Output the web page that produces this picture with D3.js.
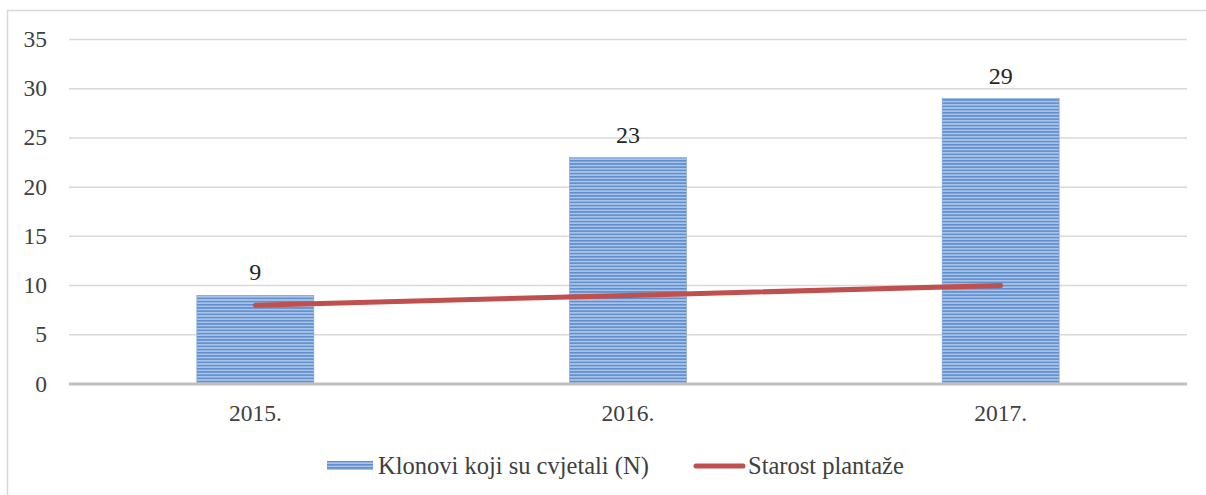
<!DOCTYPE html>
<html>
<head>
<meta charset="utf-8">
<script src="https://cdn.jsdelivr.net/npm/d3@7"></script>
<style>
  html, body { margin: 0; padding: 0; background: #fff; }
  svg { display: block; }
</style>
</head>
<body>
<svg id="chart" width="1206" height="495"></svg>
<script>
// Years on the category axis
const years = ["2015.", "2016.", "2017."];
// Number of clones that flowered each year
const flowered = [9, 23, 29];
// Plantation age in each year
const plantationAge = [8, 9, 10];
// Value axis ticks
const yTicks = [0, 5, 10, 15, 20, 25, 30, 35];

const seriesBarName = "Klonovi koji su cvjetali (N)";
const seriesLineName = "Starost plantaže";

const svg = d3.select("#chart");
const W = 1206, H = 495;
const plot = { left: 69, right: 1187, top: 39.5, bottom: 384 };
const serif = '"Liberation Serif"';
const textColor = "#404040";
const fontSize = "23.5px";

// Outer chart frame
svg.append("rect")
  .attr("x", 7.5).attr("y", 10.5)
  .attr("width", W + 20).attr("height", H + 20)
  .attr("fill", "#fff").attr("stroke", "#d9d9d9").attr("stroke-width", 1.5);

// Horizontal stripe fill for the bars
const defs = svg.append("defs");
const pat = defs.append("pattern")
  .attr("id", "stripes")
  .attr("patternUnits", "userSpaceOnUse")
  .attr("width", 8).attr("height", 3.2);
pat.append("rect").attr("width", 8).attr("height", 3.2).attr("fill", "#a9c4ea");
pat.append("rect").attr("y", 0).attr("width", 8).attr("height", 1.5).attr("fill", "#5d8ccb");

const x = d3.scaleBand()
  .domain(years)
  .range([plot.left, plot.right])
  .paddingInner(0.686)
  .paddingOuter(0.343);

const y = d3.scaleLinear()
  .domain([0, 35])
  .range([plot.bottom, plot.top]);

// Gridlines
svg.append("g")
  .selectAll("line")
  .data(yTicks.filter(t => t !== 0))
  .join("line")
  .attr("x1", plot.left).attr("x2", plot.right)
  .attr("y1", d => y(d)).attr("y2", d => y(d))
  .attr("stroke", "#d9d9d9").attr("stroke-width", 1.5);

// Value axis labels
const yAxis = d3.axisLeft(y).tickValues(yTicks).tickSize(0).tickPadding(0);
svg.append("g")
  .attr("transform", `translate(${plot.left - 22},0)`)
  .call(yAxis)
  .call(g => g.select(".domain").remove())
  .call(g => g.selectAll("text")
    .style("font-family", serif).style("font-size", fontSize)
    .attr("fill", textColor).attr("dy", "0.3em"));

// Bars
svg.append("g")
  .selectAll("rect")
  .data(years.map((yr, i) => ({ yr, v: flowered[i] })))
  .join("rect")
  .attr("x", d => x(d.yr))
  .attr("width", x.bandwidth())
  .attr("y", d => y(d.v))
  .attr("height", d => y(0) - y(d.v))
  .attr("fill", "url(#stripes)")
  .attr("stroke", "#7fa3d4").attr("stroke-width", 0.6);

// Bar value labels
svg.append("g")
  .selectAll("text")
  .data(years.map((yr, i) => ({ yr, v: flowered[i] })))
  .join("text")
  .attr("x", d => x(d.yr) + x.bandwidth() / 2)
  .attr("y", d => y(d.v) - 15)
  .attr("text-anchor", "middle")
  .style("font-family", serif).style("font-size", "24px")
  .attr("fill", "#262626")
  .text(d => d.v);

// Category axis baseline
svg.append("line")
  .attr("x1", plot.left).attr("x2", plot.right)
  .attr("y1", y(0)).attr("y2", y(0))
  .attr("stroke", "#bfbfbf").attr("stroke-width", 3);

// Category axis labels
const xAxis = d3.axisBottom(x).tickSize(0).tickPadding(0);
svg.append("g")
  .attr("transform", `translate(0,${plot.bottom + 37})`)
  .call(xAxis)
  .call(g => g.select(".domain").remove())
  .call(g => g.selectAll("text")
    .style("font-family", serif).style("font-size", fontSize)
    .attr("fill", textColor).attr("dy", 0));

// Plantation age line
const line = d3.line()
  .x((d, i) => x(years[i]) + x.bandwidth() / 2)
  .y(d => y(d));
svg.append("path")
  .datum(plantationAge)
  .attr("d", line)
  .attr("fill", "none")
  .attr("stroke", "#c0504d").attr("stroke-width", 5)
  .attr("stroke-linecap", "round");

// Legend
const legendSize = "24.5px";
const leg = svg.append("g");
leg.append("rect")
  .attr("x", 327).attr("y", 461).attr("width", 46).attr("height", 9)
  .attr("fill", "url(#stripes)");
leg.append("text").attr("x", 378).attr("y", 474)
  .style("font-family", serif).style("font-size", legendSize).attr("fill", textColor)
  .text(seriesBarName);
leg.append("line")
  .attr("x1", 696).attr("x2", 743).attr("y1", 466).attr("y2", 466)
  .attr("stroke", "#c0504d").attr("stroke-width", 5).attr("stroke-linecap", "round");
leg.append("text").attr("x", 748).attr("y", 474)
  .style("font-family", serif).style("font-size", legendSize).attr("fill", textColor)
  .text(seriesLineName);
</script>
</body>
</html>
